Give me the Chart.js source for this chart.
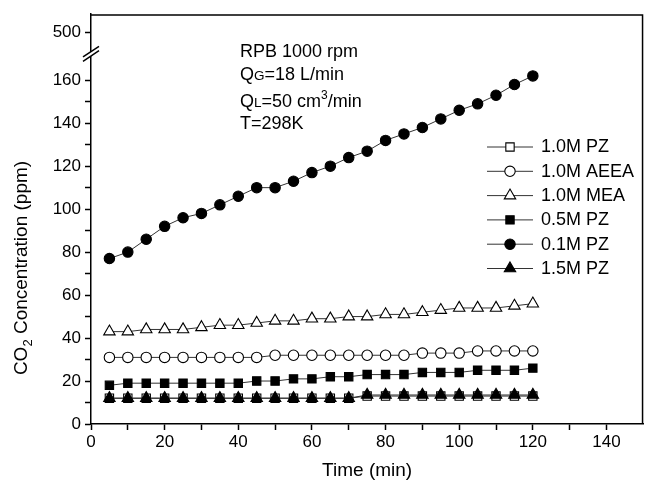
<!DOCTYPE html>
<html><head><meta charset="utf-8">
<script src="https://cdn.jsdelivr.net/npm/chart.js@4.4.0/dist/chart.umd.min.js"></script>
<style>html,body{margin:0;padding:0;background:#fff}#wrap{width:651px;height:485px}</style>
</head><body><div id="wrap"><canvas id="c" width="651" height="485"></canvas></div>
<script>
// ---- data ----
const times   = [5,10,15,20,25,30,35,40,45,50,55,60,65,70,75,80,85,90,95,100,105,110,115,120];
const pz10    = [12,12,12,12,12,12,12,12,12,12,12,12,12,12,13,13,13,13,13,13,13,13,13,13];
const aeea10  = [31,31,31,31,31,31,31,31,31,32,32,32,32,32,32,32,32,33,33,33,34,34,34,34];
const mea10   = [43,43,44,44,44,45,46,46,47,48,48,49,49,50,50,51,51,52,53,54,54,54,55,56];
const pz05    = [18,19,19,19,19,19,19,19,20,20,21,21,22,22,23,23,23,24,24,24,25,25,25,26];
const pz01    = [77,80,86,92,96,98,102,106,110,110,113,117,120,124,127,132,135,138,142,146,149,153,158,162];
const pz15    = [12,12,12,12,12,12,12,12,12,12,12,12,12,12,13.5,13.5,13.5,13.5,13.5,13.5,13.5,13.5,13.5,13.5];
const seriesNames = ['1.0M PZ','1.0M AEEA','1.0M MEA','0.5M PZ','0.1M PZ','1.5M PZ'];
const xTicks = [0,10,20,30,40,50,60,70,80,90,100,110,120,130,140];
const yTicks = [0,10,20,30,40,50,60,70,80,90,100,110,120,130,140,150,160];
const yTopTicks = [500];
const annotation = ['RPB 1000 rpm','QG=18 L/min','QL=50 cm3/min','T=298K'];

const FONT = '"Liberation Sans", Arial, sans-serif';
const styles = [
  {ps:'rect', r:5.9, fill:'#fff'},
  {ps:'circle', r:5.2, fill:'#fff'},
  {ps:'triangle', r:6.6, fill:'#fff'},
  {ps:'rect', r:5.9, fill:'#000'},
  {ps:'circle', r:5.2, fill:'#000'},
  {ps:'triangle', r:6.6, fill:'#000'}
];
const values = [pz10, aeea10, mea10, pz05, pz01, pz15];
const datasets = values.map((arr,i)=>({
  label: seriesNames[i],
  data: times.map((t,j)=>({x:t, y:arr[j]})),
  yAxisID:'y',
  borderColor:'#333', borderWidth:1,
  pointStyle: styles[i].ps, pointRadius: styles[i].r, pointHoverRadius: styles[i].r,
  pointBackgroundColor: styles[i].fill, pointBorderColor:'#000', pointBorderWidth:1.1,
  fill:false, tension:0,
  order: i===5 ? 0 : 1
}));

function drawMarker(ctx, st, x, y){
  ctx.save();
  ctx.fillStyle = st.fill; ctx.strokeStyle = '#000'; ctx.lineWidth = 1.1;
  if (Chart.helpers && Chart.helpers.drawPoint) {
    Chart.helpers.drawPoint(ctx, {pointStyle: st.ps, radius: st.r, borderWidth: 1.1, rotation: 0}, x, y);
  }
  ctx.restore();
}

const deco = {
  id:'deco',
  afterDraw(chart){
    const {ctx, chartArea:a, scales} = chart;
    ctx.save();
    // frame (top and right)
    ctx.strokeStyle='#000'; ctx.lineWidth=1.5;
    ctx.beginPath();
    ctx.moveTo(a.left, a.top+0.75); ctx.lineTo(a.right-0.75, a.top+0.75); ctx.lineTo(a.right-0.75, a.bottom);
    ctx.stroke();
    // axis break
    const yb = scales.y.top, xb = a.left;
    const dx = 8, dy = 5.3, g = 2.2;
    ctx.fillStyle='#fff';
    ctx.beginPath();
    ctx.moveTo(xb-dx, yb+g+dy); ctx.lineTo(xb+dx, yb+g-dy);
    ctx.lineTo(xb+dx, yb-g-dy); ctx.lineTo(xb-dx, yb-g+dy); ctx.closePath();
    ctx.fill();
    ctx.lineWidth=1.5;
    ctx.beginPath();
    ctx.moveTo(xb-dx, yb+g+dy); ctx.lineTo(xb+dx, yb+g-dy);
    ctx.moveTo(xb-dx, yb-g+dy); ctx.lineTo(xb+dx, yb-g-dy);
    ctx.stroke();

    // y-axis title
    ctx.fillStyle='#000';
    ctx.save();
    ctx.translate(27, 268);
    ctx.rotate(-Math.PI/2);
    ctx.textBaseline='alphabetic';
    const big = '19px '+FONT, small = '13px '+FONT;
    ctx.font = big; const w1 = ctx.measureText('CO').width;
    ctx.font = small; const w2 = ctx.measureText('2').width;
    ctx.font = big; const w3 = ctx.measureText(' Concentration (ppm)').width;
    let x0 = -(w1+w2+w3)/2;
    ctx.font = big; ctx.textAlign='left'; ctx.fillText('CO', x0, 0);
    ctx.font = small; ctx.fillText('2', x0+w1, 4.5);
    ctx.font = big; ctx.fillText(' Concentration (ppm)', x0+w1+w2, 0);
    ctx.restore();

    // annotation
    const f16 = '18px '+FONT, f12 = '13.5px '+FONT, f11 = '12px '+FONT;
    ctx.textAlign='left'; ctx.textBaseline='alphabetic';
    const ax = 240;
    ctx.font=f16; ctx.fillText(annotation[0], ax, 57.3);
    // QG=18 L/min
    ctx.font=f16; let w=ctx.measureText('Q').width; ctx.fillText('Q', ax, 80);
    ctx.font=f12; let wg=ctx.measureText('G').width; ctx.fillText('G', ax+w, 80);
    ctx.font=f16; ctx.fillText('=18 L/min', ax+w+wg, 80);
    // QL=50 cm3/min
    ctx.font=f16; ctx.fillText('Q', ax, 107);
    ctx.font=f12; let wl=ctx.measureText('L').width; ctx.fillText('L', ax+w, 107);
    ctx.font=f16; const s1='=50 cm'; let ws=ctx.measureText(s1).width; ctx.fillText(s1, ax+w+wl, 107);
    ctx.font=f11; let w3s=ctx.measureText('3').width; ctx.fillText('3', ax+w+wl+ws, 99);
    ctx.font=f16; ctx.fillText('/min', ax+w+wl+ws+w3s, 107);
    ctx.fillText(annotation[3], ax, 128.5);

    // legend
    const rows = [147, 171.3, 195.6, 219.9, 244.2, 268.5];
    rows.forEach((ry,i)=>{
      ctx.strokeStyle='#333'; ctx.lineWidth=1;
      ctx.beginPath(); ctx.moveTo(487, ry); ctx.lineTo(533, ry); ctx.stroke();
      drawMarker(ctx, styles[i], 510, ry);
      ctx.fillStyle='#000'; ctx.font='18px '+FONT; ctx.textBaseline='middle'; ctx.textAlign='left';
      ctx.fillText(seriesNames[i], 541, ry+0.5);
    });
    ctx.restore();
  }
};

const tickFont = {family: FONT, size: 17};
new Chart(document.getElementById('c'), {
  type:'line',
  data:{datasets},
  options:{
    responsive:false, animation:false, devicePixelRatio:1,
    layout:{padding:{top:10, left:0, right:0, bottom:0}},
    plugins:{legend:{display:false}, tooltip:{enabled:false}},
    scales:{
      x:{
        type:'linear', min:0, max:150,
        afterBuildTicks: s => { s.ticks = xTicks.map(v=>({value:v})); },
        afterFit: s => { s.height = 61; },
        ticks:{ autoSkip:false, maxRotation:0, color:'#000', font:tickFont, padding:2,
          callback: v => (v % 20 === 0 ? String(v) : '') },
        grid:{ drawOnChartArea:false, drawTicks:true, tickLength:6, tickColor:'#000', tickWidth:1.5 },
        border:{ display:true, color:'#000', width:1.5 },
        title:{ display:true, text:'Time (min)', color:'#000', font:{family:FONT, size:19}, padding:{top:0, bottom:3} }
      },
      y:{
        type:'linear', position:'left', stack:'v', stackWeight:374, min:0, max:172.3,
        afterBuildTicks: s => { s.ticks = yTicks.map(v=>({value:v})); },
        afterFit: s => { s.width = 91; },
        ticks:{ autoSkip:false, color:'#000', font:tickFont, padding:4,
          callback: v => (v % 20 === 0 ? String(v) : '') },
        grid:{ drawOnChartArea:false, drawTicks:true, tickLength:6, tickColor:'#000', tickWidth:1.5 },
        border:{ display:true, color:'#000', width:1.5 }
      },
      yTop:{
        type:'linear', position:'left', stack:'v', stackWeight:40, min:489.9, max:508.3,
        afterBuildTicks: s => { s.ticks = yTopTicks.map(v=>({value:v})); },
        afterFit: s => { s.width = 91; },
        ticks:{ autoSkip:false, color:'#000', font:tickFont, padding:4 },
        grid:{ drawOnChartArea:false, drawTicks:true, tickLength:6, tickColor:'#000', tickWidth:1.5 },
        border:{ display:true, color:'#000', width:1.5 }
      }
    }
  },
  plugins:[deco]
});
</script>
</body></html>
